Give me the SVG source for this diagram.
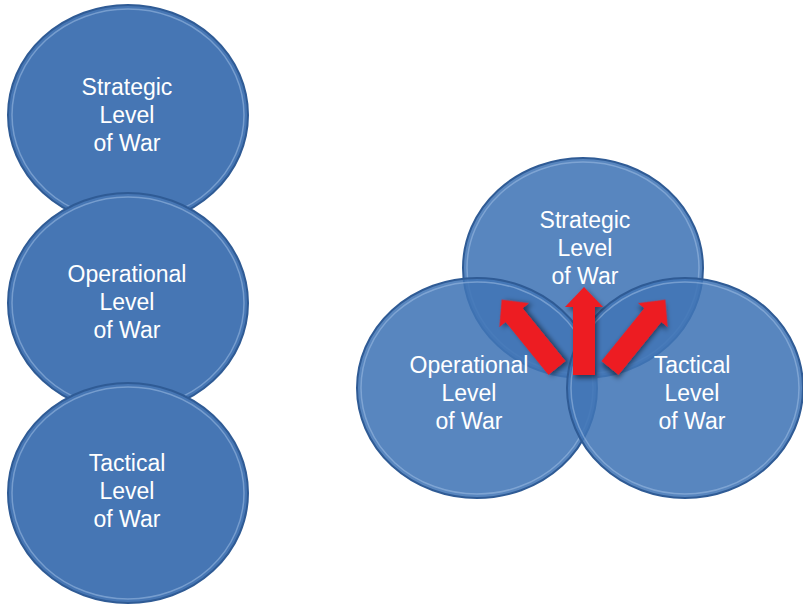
<svg xmlns="http://www.w3.org/2000/svg" width="803" height="604" viewBox="0 0 803 604">
<style>
.solid{fill:#4676b4;stroke:#2f5b95;stroke-width:2}
.trans{fill:#4175b6;fill-opacity:0.88;stroke:#2f5b95;stroke-width:2}
.hl{fill:none;stroke:#9fbde3;stroke-opacity:0.55;stroke-width:1.5}
.lbl{font-family:"Liberation Sans",Arial,sans-serif;font-size:23px;fill:#ffffff;text-anchor:middle}
.arrow{fill:#ed1c24;filter:url(#sh)}
</style>
<defs>
<filter id="sh" x="-30%" y="-30%" width="160%" height="160%">
<feDropShadow dx="2" dy="3" stdDeviation="2.5" flood-color="#000" flood-opacity="0.5"/>
</filter>
<polygon id="arr" points="-11,0 -11,-68 -19,-68 0,-88 19,-68 11,-68 11,0"/>
</defs>
<rect width="803" height="604" fill="#ffffff"/>
<g id="left-strategic">
<ellipse class="solid" cx="128" cy="115" rx="120" ry="110"/>
<ellipse class="hl" cx="128" cy="115" rx="116" ry="106"/>
<text class="lbl" x="127" y="95">Strategic</text>
<text class="lbl" x="127" y="123">Level</text>
<text class="lbl" x="127" y="151">of War</text>
</g>
<g id="left-operational">
<ellipse class="solid" cx="128" cy="303" rx="120" ry="110"/>
<ellipse class="hl" cx="128" cy="303" rx="116" ry="106"/>
<text class="lbl" x="127" y="282">Operational</text>
<text class="lbl" x="127" y="310">Level</text>
<text class="lbl" x="127" y="338">of War</text>
</g>
<g id="left-tactical">
<ellipse class="solid" cx="128" cy="493" rx="120" ry="110"/>
<ellipse class="hl" cx="128" cy="493" rx="116" ry="106"/>
<text class="lbl" x="127" y="471">Tactical</text>
<text class="lbl" x="127" y="499">Level</text>
<text class="lbl" x="127" y="527">of War</text>
</g>
<g id="right-strategic">
<ellipse class="trans" cx="583" cy="268" rx="120" ry="110"/>
<ellipse class="hl" cx="583" cy="268" rx="116" ry="106"/>
<text class="lbl" x="585" y="228">Strategic</text>
<text class="lbl" x="585" y="256">Level</text>
<text class="lbl" x="585" y="284">of War</text>
</g>
<g id="right-operational">
<ellipse class="trans" cx="477" cy="388" rx="120" ry="110"/>
<ellipse class="hl" cx="477" cy="388" rx="116" ry="106"/>
<text class="lbl" x="469" y="373">Operational</text>
<text class="lbl" x="469" y="401">Level</text>
<text class="lbl" x="469" y="429">of War</text>
</g>
<g id="right-tactical">
<ellipse class="trans" cx="685" cy="388" rx="118" ry="110"/>
<ellipse class="hl" cx="685" cy="388" rx="114" ry="106"/>
<text class="lbl" x="692" y="373">Tactical</text>
<text class="lbl" x="692" y="401">Level</text>
<text class="lbl" x="692" y="429">of War</text>
</g>
<g id="connectors">
<use href="#arr" class="arrow" transform="translate(557,368) rotate(-39)"/>
<use href="#arr" class="arrow" transform="translate(584,375)"/>
<use href="#arr" class="arrow" transform="translate(610,368) rotate(39)"/>
</g>
</svg>
